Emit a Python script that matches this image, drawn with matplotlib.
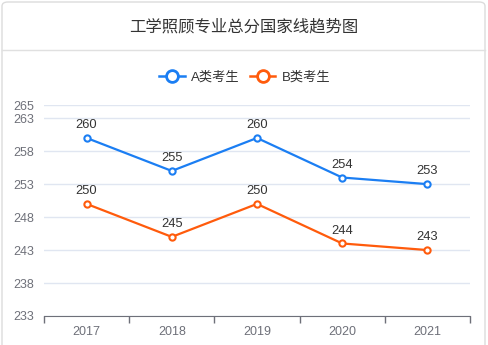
import matplotlib.pyplot as plt
from matplotlib.patches import FancyBboxPatch
from matplotlib.lines import Line2D

plt.rcParams['font.family'] = ['Liberation Sans', 'Noto Sans CJK SC', 'DejaVu Sans']

years = ["2017", "2018", "2019", "2020", "2021"]
a_scores = [260, 255, 260, 254, 253]
b_scores = [250, 245, 250, 244, 243]
y_ticks = [233, 238, 243, 248, 253, 258, 263, 265]

title = "工学照顾专业总分国家线趋势图"
blue = "#1b7ef3"
orange = "#ff5b0c"
grey = "#6e7079"

fig = plt.figure(figsize=(4.88, 3.45), dpi=100)
W, H = 488, 345

# card
card = FancyBboxPatch((2 / W, -0.2), 483 / W, 1.2 - 2 / H, transform=fig.transFigure,
                      boxstyle="round,pad=0,rounding_size=0.012",
                      facecolor="white", edgecolor="#dcdcdc", linewidth=1.0, zorder=-5)
fig.patches.append(card)
fig.add_artist(Line2D([2 / W, 485 / W], [1 - 50 / H, 1 - 50 / H],
                      transform=fig.transFigure, color="#e0e0e0", linewidth=1.0))
fig.text(244 / W, 1 - 27 / H, title, ha="center", va="center",
         fontsize=11.8, color="#333333")

ax = fig.add_axes([44 / W, 1 - 316 / H, 426 / W, 211 / H])
ax.patch.set_alpha(0)
x = list(range(len(years)))

ax.plot(x, a_scores, color=blue, linewidth=1.6, marker="o", markersize=4.5,
        markerfacecolor="white", markeredgewidth=1.5, label="A类考生", zorder=3)
ax.plot(x, b_scores, color=orange, linewidth=1.6, marker="o", markersize=4.5,
        markerfacecolor="white", markeredgewidth=1.5, label="B类考生", zorder=3)

for xi, v in zip(x, a_scores):
    ax.annotate(str(v), (xi, v), xytext=(0, 5), textcoords="offset points",
                ha="center", va="bottom", fontsize=9.3, color="#333333")
for xi, v in zip(x, b_scores):
    ax.annotate(str(v), (xi, v), xytext=(0, 5), textcoords="offset points",
                ha="center", va="bottom", fontsize=9.3, color="#333333")

ax.set_xlim(-0.5, len(years) - 0.5)
ax.set_ylim(233, 265)
ax.set_yticks(y_ticks)
ax.set_xticks(x)
ax.set_xticklabels(years)
ax.set_xticks([i - 0.5 for i in range(len(years) + 1)], minor=True)
ax.tick_params(axis="x", which="major", length=0, pad=7, labelsize=9, labelcolor=grey)
ax.tick_params(axis="x", which="minor", length=5, width=1, color=grey, direction="out")
ax.tick_params(axis="y", length=0, pad=7, labelsize=9, labelcolor=grey)

for s in ["top", "right", "left"]:
    ax.spines[s].set_visible(False)
ax.spines["bottom"].set_color(grey)
ax.grid(axis="y", color="#e0e6f1", linewidth=1)
ax.set_axisbelow(True)

handles = [
    Line2D([], [], color=blue, linewidth=1.8, marker="o", markersize=8.5,
           markerfacecolor="white", markeredgewidth=2),
    Line2D([], [], color=orange, linewidth=1.8, marker="o", markersize=8.5,
           markerfacecolor="white", markeredgewidth=2),
]
fig.legend(handles, ["A类考生", "B类考生"], loc="center", ncol=2,
           bbox_to_anchor=(245 / W, 1 - 77 / H), frameon=False, fontsize=9.5,
           handlelength=1.9, handletextpad=0.5, columnspacing=0.8,
           labelcolor="#333333")

fig.savefig("out.png", dpi=100)
